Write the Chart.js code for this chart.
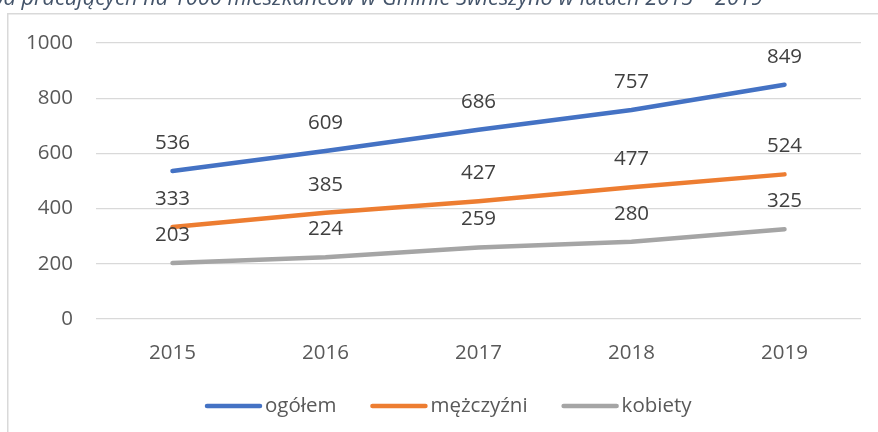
<!DOCTYPE html>
<html>
<head>
<meta charset="utf-8">
<script src="https://cdn.jsdelivr.net/npm/chart.js@4/dist/chart.umd.min.js"></script>
<style>
  html,body{margin:0;padding:0;background:#fff;}
  #wrap{width:878px;height:432px;position:relative;}
</style>
</head>
<body>
<div id="wrap"><canvas id="c" width="878" height="432"></canvas></div>
<script>
const titleText = "Liczba pracujących na 1000 mieszkańców w Gminie Świeszyno w latach 2015 – 2019";
const years = ["2015", "2016", "2017", "2018", "2019"];
const seriesNames = ["ogółem", "mężczyźni", "kobiety"];
const ogolem = [536, 609, 686, 757, 849];
const mezczyzni = [333, 385, 427, 477, 524];
const kobiety = [203, 224, 259, 280, 325];
const yTicks = [0, 200, 400, 600, 800, 1000];
const colors = ["#4472C4", "#ED7D31", "#A5A5A5"];
const FONT = "'Open Sans', sans-serif";
const FS = 20.5;

const decor = {
  id: 'decor',
  beforeDraw(chart) {
    const ctx = chart.ctx;
    ctx.save();
    ctx.fillStyle = '#fff';
    ctx.fillRect(0, 0, chart.width, chart.height);
    // cut-off title
    ctx.font = "italic 21.8px " + FONT;
    ctx.fillStyle = '#44546A';
    ctx.textAlign = 'right';
    ctx.textBaseline = 'alphabetic';
    ctx.fillText(titleText, 763, 5);
    // frame
    ctx.strokeStyle = '#D9D9D9';
    ctx.lineWidth = 1.5;
    ctx.strokeRect(7.75, 13.75, 1000, 1000);
    ctx.restore();
  },
  afterDatasetsDraw(chart) {
    const ctx = chart.ctx;
    ctx.save();
    ctx.font = FS + "px " + FONT;
    ctx.fillStyle = '#404040';
    ctx.textAlign = 'center';
    ctx.textBaseline = 'middle';
    chart.data.datasets.forEach((ds, i) => {
      const meta = chart.getDatasetMeta(i);
      meta.data.forEach((pt, j) => {
        ctx.fillText(String(ds.data[j]), pt.x, pt.y - 28);
      });
    });
    // legend
    const items = chart.data.datasets.map(d => ({label: d.label, color: d.borderColor}));
    const lineW = 57, gapText = 3, gapItem = 34;
    let x = 205;
    const y = 406;
    items.forEach(it => {
      ctx.strokeStyle = it.color;
      ctx.lineWidth = 4.5;
      ctx.lineCap = 'round';
      ctx.beginPath();
      ctx.moveTo(x + 2, y);
      ctx.lineTo(x + lineW - 2, y);
      ctx.stroke();
      x += lineW + gapText;
      ctx.fillStyle = '#595959';
      ctx.textAlign = 'left';
      ctx.fillText(it.label, x, y);
      x += ctx.measureText(it.label).width + gapItem;
    });
    ctx.restore();
  }
};

new Chart(document.getElementById('c'), {
  type: 'line',
  data: {
    labels: years,
    datasets: [
      {label: seriesNames[0], data: ogolem, borderColor: colors[0], backgroundColor: colors[0]},
      {label: seriesNames[1], data: mezczyzni, borderColor: colors[1], backgroundColor: colors[1]},
      {label: seriesNames[2], data: kobiety, borderColor: colors[2], backgroundColor: colors[2]}
    ].map(d => Object.assign(d, {borderWidth: 4.5, pointRadius: 0, tension: 0, borderCapStyle: 'round', borderJoinStyle: 'round'}))
  },
  options: {
    responsive: false,
    animation: false,
    layout: {padding: {left: 10, right: 17, top: 43, bottom: 0}},
    plugins: {legend: {display: false}, tooltip: {enabled: false}, title: {display: false}},
    scales: {
      x: {
        offset: true,
        grid: {display: false, drawTicks: false},
        border: {display: false},
        ticks: {padding: 22, color: '#595959', font: {family: FONT, size: FS}},
        afterFit(s) { s.height = 113; }
      },
      y: {
        min: yTicks[0], max: yTicks[yTicks.length - 1],
        afterBuildTicks(s) { s.ticks = yTicks.map(v => ({value: v})); },
        ticks: {padding: 23, color: '#595959', font: {family: FONT, size: FS}, callback: v => String(v)},
        grid: {color: '#D9D9D9', lineWidth: 1.2, drawTicks: false},
        border: {display: false},
        afterFit(s) { s.width = 86; }
      }
    }
  },
  plugins: [decor]
});
</script>
</body>
</html>
